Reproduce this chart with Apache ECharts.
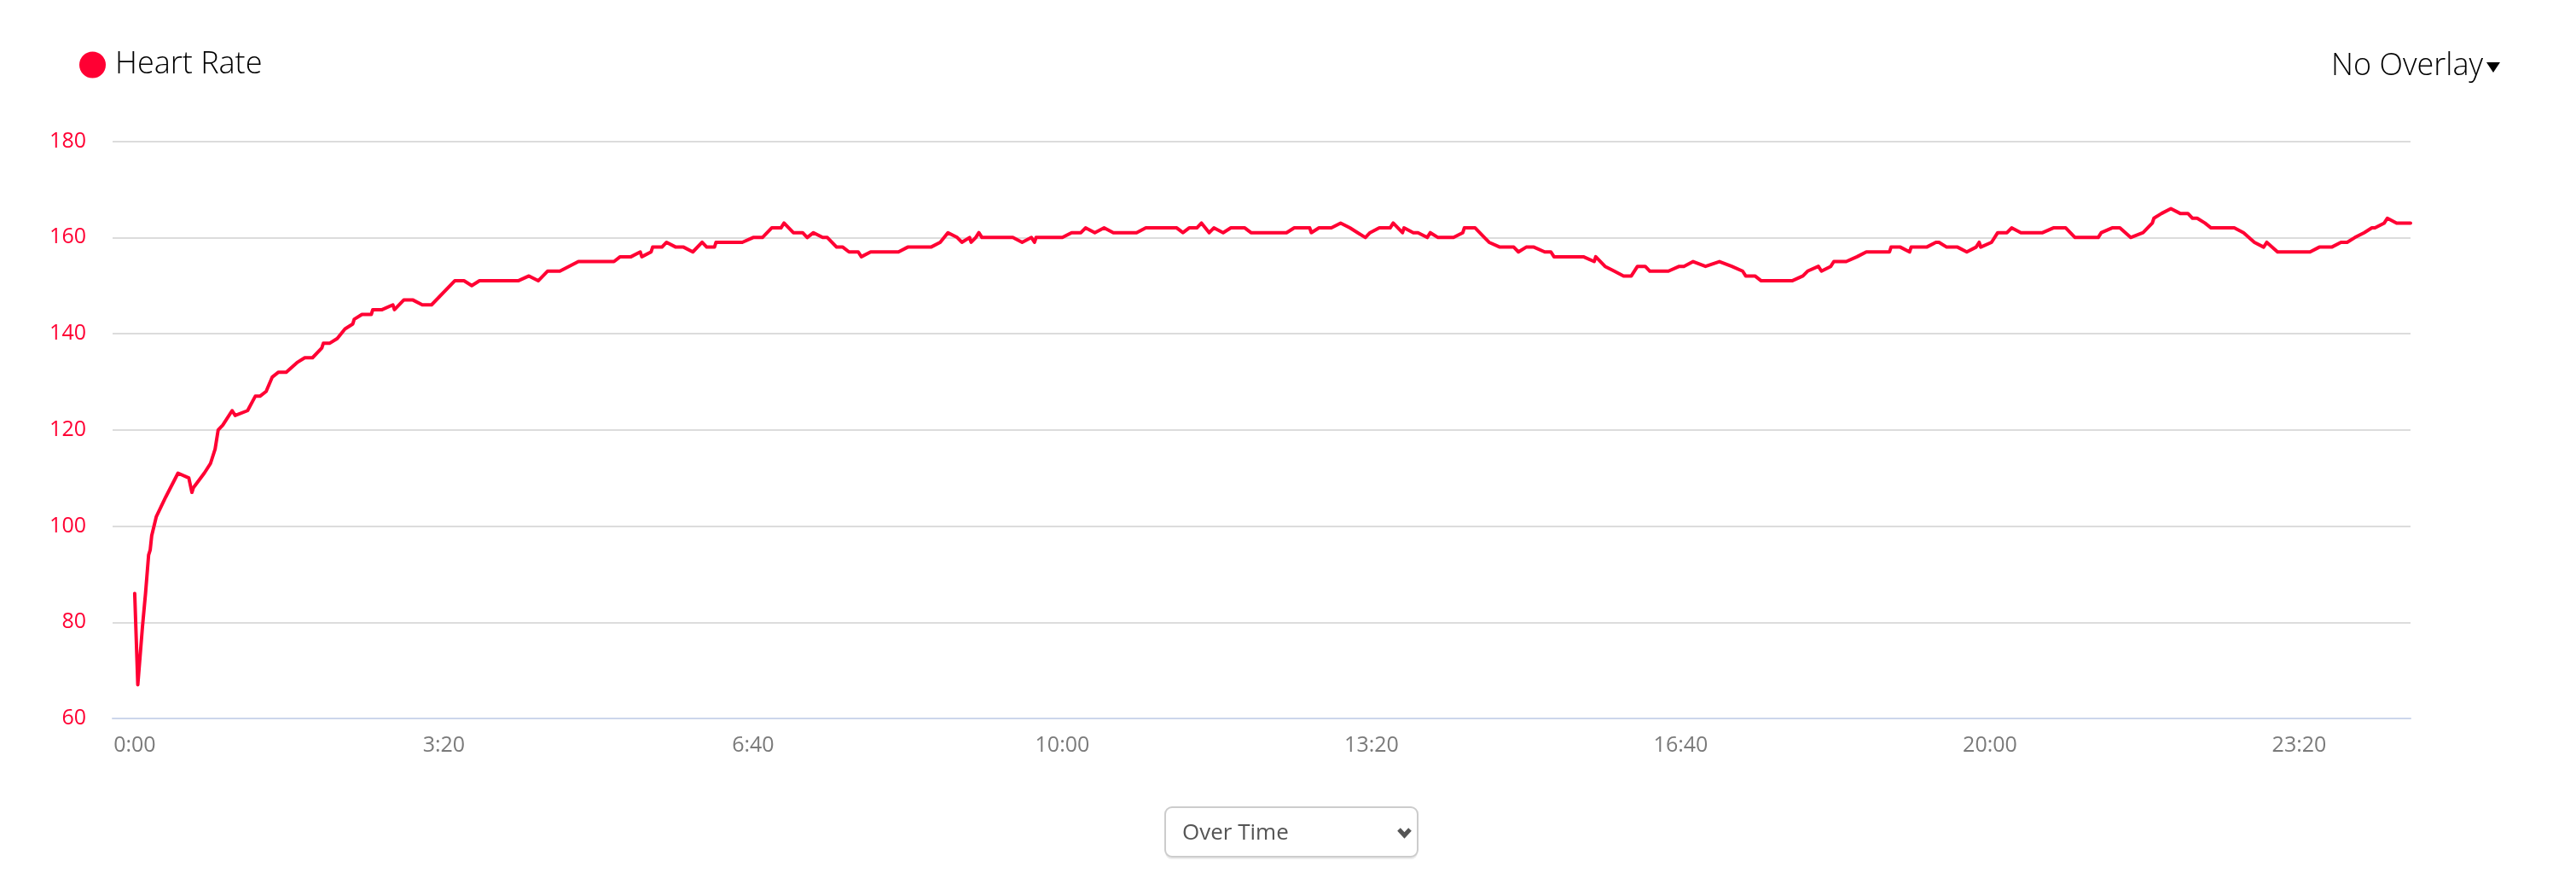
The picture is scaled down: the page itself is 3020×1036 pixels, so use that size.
<!DOCTYPE html>
<html>
<head>
<meta charset="utf-8">
<script src="https://cdn.jsdelivr.net/npm/echarts@6/dist/echarts.min.js"></script>
<style>
html,body{margin:0;padding:0;background:#fff;}
#chart{width:3020px;height:1036px;}
</style>
</head>
<body>
<div id="chart"></div>
<script>
// elapsed time in seconds
var times = [0,2,5,7,9,10,11,14,20,28,35,37,38,45,49,52,54,57,63,65,73,78,81,85,89,93,98,105,110,115,121,122,126,131,136,141,142,147,153,154,160,167,168,174,180,186,192,207,213,218,223,248,255,261,267,275,287,310,314,321,327,328,334,335,341,344,350,355,361,367,370,375,376,393,400,406,412,418,420,426,432,435,439,445,448,454,458,462,468,470,476,494,500,515,521,526,532,535,540,541,544,546,548,568,574,580,582,583,600,606,612,615,621,627,633,648,654,674,678,682,687,690,695,698,704,709,718,722,745,750,760,761,766,774,780,786,791,796,799,805,812,814,820,821,827,830,836,838,843,853,859,860,867,873,876,883,892,895,900,905,912,916,918,937,944,945,951,957,963,968,972,977,980,992,999,1002,1008,1016,1025,1033,1040,1042,1048,1052,1072,1079,1082,1089,1091,1097,1099,1107,1114,1120,1135,1136,1142,1148,1149,1159,1165,1167,1172,1179,1185,1191,1193,1194,1201,1205,1211,1214,1220,1234,1241,1249,1255,1270,1272,1279,1284,1291,1299,1305,1306,1311,1317,1323,1328,1331,1334,1339,1343,1358,1364,1371,1377,1379,1386,1407,1413,1421,1427,1431,1436,1442,1447,1449,1455,1457,1463,1472];
// heart rate (bpm)
var heartRate = [86,67,79,86,94,95,98,102,106,111,110,107,108,111,113,116,120,121,124,123,124,127,127,128,131,132,132,134,135,135,137,138,138,139,141,142,143,144,144,145,145,146,145,147,147,146,146,151,151,150,151,151,152,151,153,153,155,155,156,156,157,156,157,158,158,159,158,158,157,159,158,158,159,159,160,160,162,162,163,161,161,160,161,160,160,158,158,157,157,156,157,157,158,158,159,161,160,159,160,159,160,161,160,160,159,160,159,160,160,161,161,162,161,162,161,161,162,162,161,162,162,163,161,162,161,162,162,161,161,162,162,161,162,162,163,162,161,160,161,162,162,163,161,162,161,161,160,161,160,160,161,162,162,160,159,158,158,157,158,158,157,157,156,156,155,156,154,153,152,152,154,154,153,153,154,154,155,154,155,154,153,152,152,151,151,152,153,154,153,154,155,155,156,157,157,158,158,157,158,158,159,159,158,158,157,158,159,158,159,161,161,162,161,161,162,162,160,160,161,162,162,160,161,163,164,165,166,165,165,164,164,163,162,162,161,159,158,159,157,157,158,158,159,159,160,161,162,162,163,164,163,163];
var xTickValues = [0,200,400,600,800,1000,1200,1400];
var yTicks = [60,80,100,120,140,160,180];
var seriesName = 'Heart Rate';
var overlayLabel = 'No Overlay';
var viewLabel = 'Over Time';

var data = times.map(function(t,i){return [t, heartRate[i]];});
function fmt(s){var m=Math.floor(s/60),r=s%60;return m+':'+(r<10?'0':'')+r;}

var RED = '#ff0033';
var FONT = '"Open Sans", "Noto Sans", sans-serif';
var chart = echarts.init(document.getElementById('chart'), null, {renderer:'canvas'});
chart.setOption({
  animation:false,
  backgroundColor:'#fff',
  legend:{
    left:88, top:53, selectedMode:false,
    icon:'circle', itemWidth:31, itemHeight:31,
    textStyle:{fontFamily:FONT, fontSize:36, fontWeight:300, color:'#000', padding:[0,0,0,6]},
    data:[seriesName]
  },
  grid:{left:132, right:194, top:165.6, bottom:194, containLabel:false},
  xAxis:{
    type:'value', min:-14.3, max:1472,
    axisLine:{show:true, lineStyle:{color:'#ccd6eb', width:2}},
    axisTick:{show:false},
    splitLine:{show:false},
    axisLabel:{customValues:xTickValues, formatter:function(v){return fmt(v);}, color:'#7a7a7a', fontSize:25, fontFamily:FONT, margin:19}
  },
  yAxis:{
    type:'value', min:yTicks[0], max:yTicks[yTicks.length-1], interval:20,
    axisLine:{show:false}, axisTick:{show:false},
    splitLine:{lineStyle:{color:'#dcdcdc', width:2}},
    axisLabel:{color:RED, fontSize:25, fontFamily:FONT, margin:31}
  },
  series:[{
    name:seriesName, type:'line', data:data, showSymbol:false, symbol:'circle',
    itemStyle:{color:RED},
    lineStyle:{color:RED, width:4, join:'round', cap:'round'}
  }],
  graphic:[
    {type:'text', style:{x:2733, y:78, text:overlayLabel, verticalAlign:'middle', fontFamily:FONT, fontSize:36, fontWeight:300, fill:'#000'}},
    {type:'polygon', shape:{points:[[2915,73],[2931,73],[2923,85]]}, style:{fill:'#000'}},
    {type:'rect', shape:{x:1366, y:951, width:296, height:56, r:8}, style:{fill:'#ececec'}},
    {type:'rect', shape:{x:1366, y:946, width:296, height:58, r:8}, style:{fill:'#fff', stroke:'#cccccc', lineWidth:2}},
    {type:'text', style:{x:1386, y:977, text:viewLabel, verticalAlign:'middle', fontFamily:FONT, fontSize:26, fill:'#555'}},
    {type:'polyline', shape:{points:[[1640,972],[1646.5,979],[1653,972]]}, style:{stroke:'#555', lineWidth:5, fill:null}}
  ]
});
</script>
</body>
</html>
